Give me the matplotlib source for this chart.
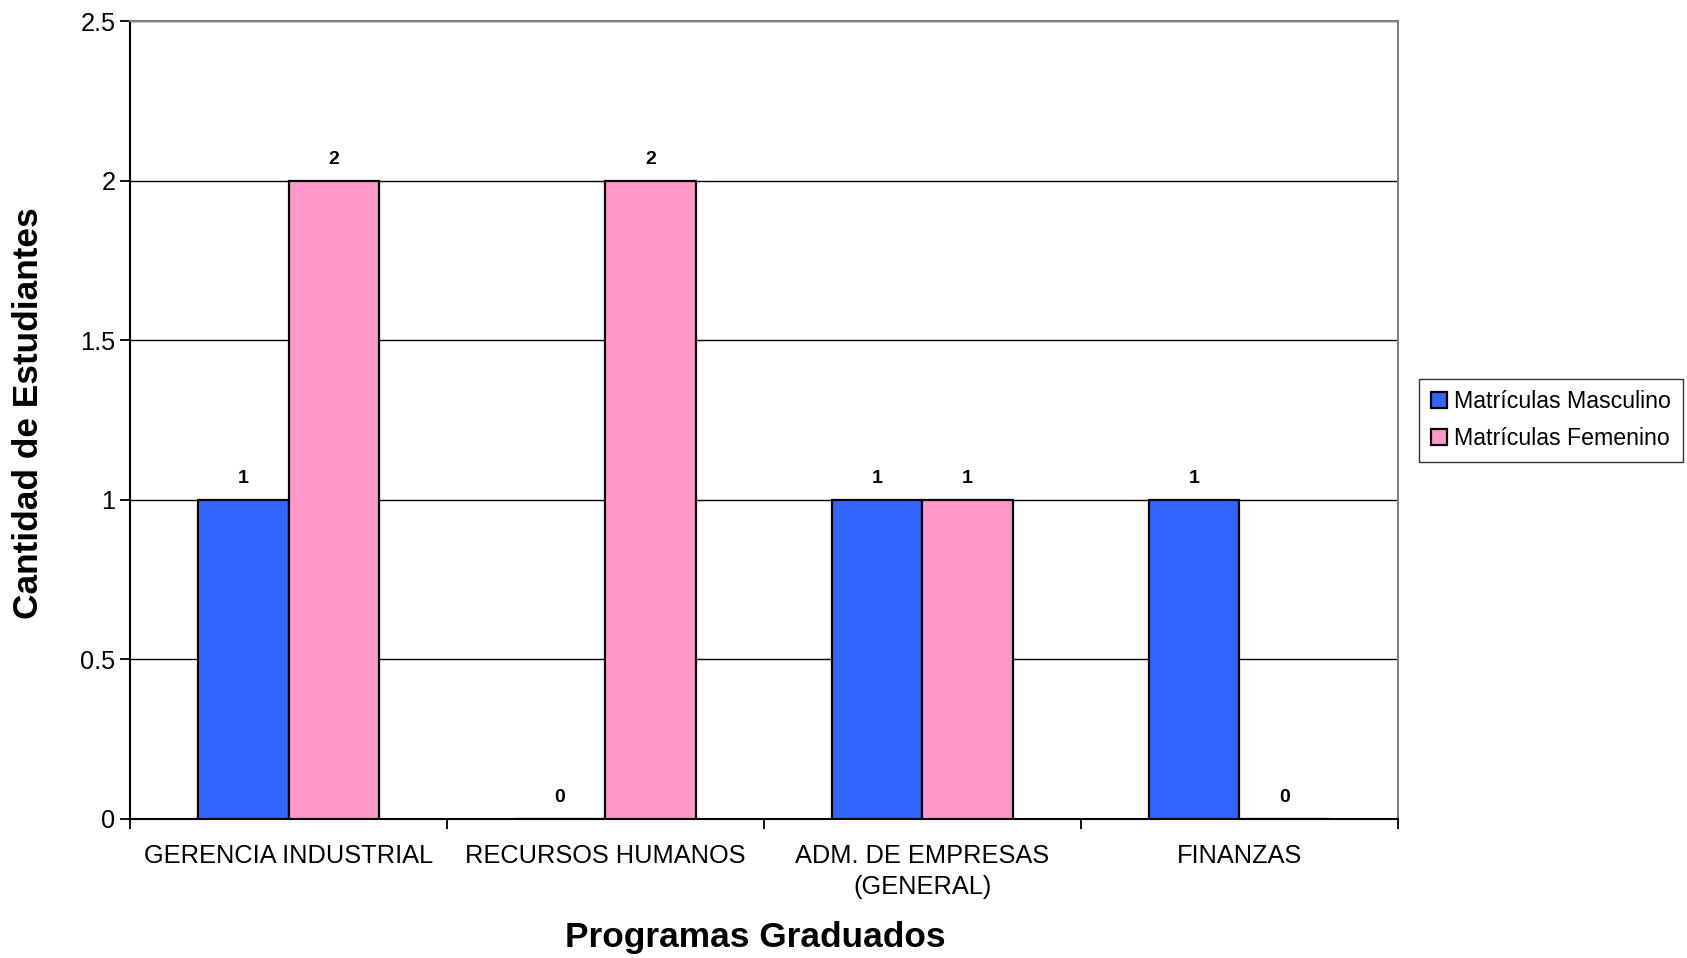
import numpy as np
import matplotlib
matplotlib.use("Agg")
import matplotlib.pyplot as plt

plt.rcParams['font.family'] = ['Liberation Sans', 'DejaVu Sans']

programas = ['GERENCIA INDUSTRIAL', 'RECURSOS HUMANOS', 'ADM. DE EMPRESAS\n(GENERAL)', 'FINANZAS']
masculino = [1, 0, 1, 1]
femenino = [2, 2, 1, 0]
series_names = ['Matrículas Masculino', 'Matrículas Femenino']
colores = ['#3366FF', '#FF99CC']

fig = plt.figure(figsize=(16.87, 9.58), dpi=100)
ax = fig.add_axes([0.0771, 0.1453, 0.7514, 0.8323])

x = np.arange(len(programas))
w = 0.286

b1 = ax.bar(x - w / 2, masculino, w, color=colores[0], edgecolor='black', lw=1.6,
            label=series_names[0], zorder=3)
b2 = ax.bar(x + w / 2, femenino, w, color=colores[1], edgecolor='black', lw=1.6,
            label=series_names[1], zorder=3)

for bars in (b1, b2):
    for r in bars:
        h = r.get_height()
        ax.annotate(str(int(h)), (r.get_x() + r.get_width() / 2, h), xytext=(0, 9),
                    textcoords='offset points', ha='center', va='bottom',
                    fontsize=14, fontweight='bold')

ax.set_xlim(-0.5, 3.5)
ax.set_ylim(0, 2.5)
ax.set_yticks(np.arange(0, 2.51, 0.5))
ax.set_yticklabels(['0', '0.5', '1', '1.5', '2', '2.5'])
ax.yaxis.grid(True, color='black', lw=1, zorder=0)

ax.set_xticks(x)
ax.set_xticklabels(programas, fontsize=18.3, linespacing=1.4)
ax.tick_params(axis='x', length=0, pad=18)
ax.set_xticks(np.arange(-0.5, 3.6, 1), minor=True)
ax.tick_params(axis='x', which='minor', length=7, width=1.3, direction='out')
ax.tick_params(axis='y', labelsize=18.3, length=7, width=1.3, direction='out')

for s in ('top', 'right'):
    ax.spines[s].set_color('#808080')
    ax.spines[s].set_linewidth(1.5)
for s in ('left', 'bottom'):
    ax.spines[s].set_linewidth(1.5)

ax.set_ylabel('Cantidad de Estudiantes', fontsize=25.4, fontweight='bold', va='center')
ax.set_xlabel('Programas Graduados', fontsize=25.4, fontweight='bold', va='center')
ax.yaxis.set_label_coords(-0.0798, 0.509)
ax.xaxis.set_label_coords(0.4936, -0.1484)

leg = ax.legend(loc='center left', bbox_to_anchor=(1.008, 0.5), fontsize=16.7,
                frameon=True, fancybox=False, edgecolor='black', handlelength=0.7,
                handleheight=0.7, handletextpad=0.3, borderpad=0.5, labelspacing=0.6)
leg.get_frame().set_linewidth(1)

fig.savefig('out.png', dpi=100)
